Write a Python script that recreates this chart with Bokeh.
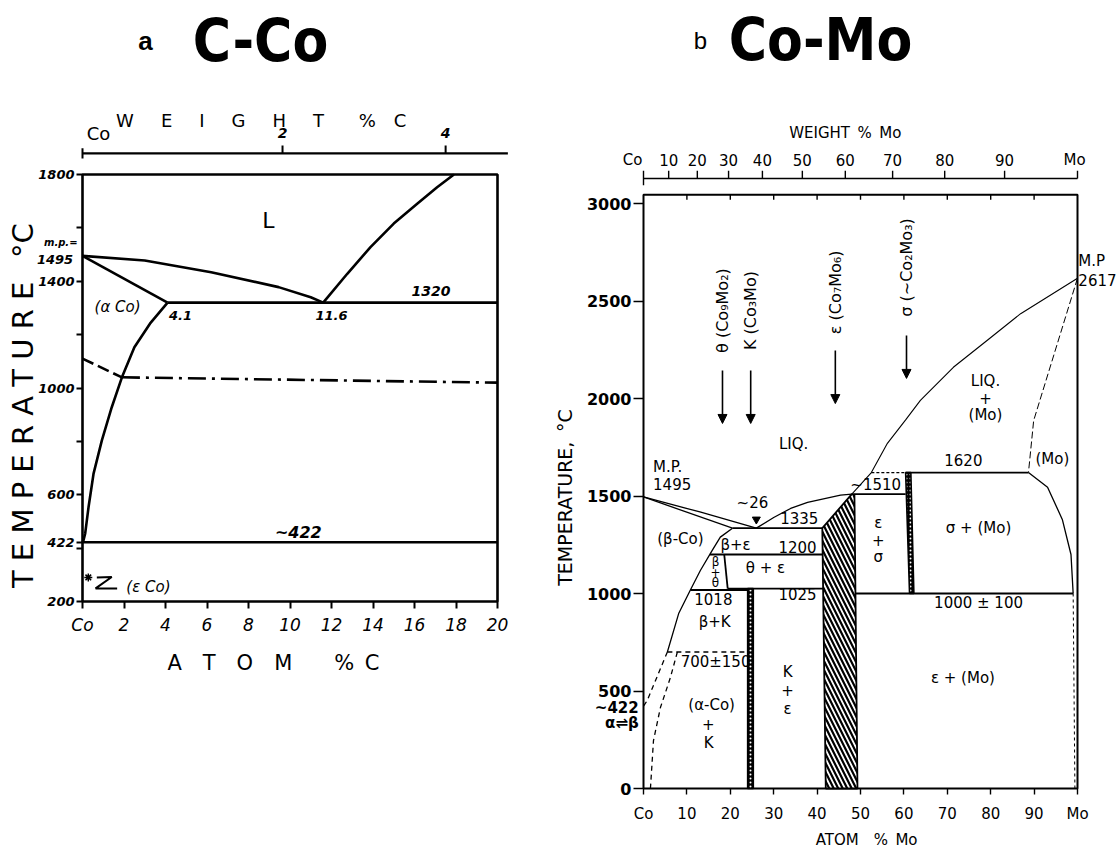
from bokeh.plotting import figure
from bokeh.layouts import row
from bokeh.models import Range1d, FixedTicker, LinearAxis, ColumnDataSource, Arrow, NormalHead
from bokeh.core.properties import value
from bokeh.embed import file_html
from bokeh.resources import INLINE

# ---------------- C-Co : atom % C against temperature (deg C) ----------------
cc_at_ticks = [0, 2, 4, 6, 8, 10, 12, 14, 16, 18, 20]
cc_at_labels = ["Co", "2", "4", "6", "8", "10", "12", "14", "16", "18", "20"]
cc_t_ticks = [200, 422, 600, 1000, 1400, 1800]
cc_t_minor = [400, 800, 1200, 1600]
cc_wt_ticks_at = [0, 9.64, 17.5]          # weight % C marks placed on the atom % scale
cc_wt_labels = ["Co", "2", "4"]

cc_frame_at = [0, 20]
cc_frame_t = [200, 1800]
cc_mp_co = 1495
cc_eutectic_t = 1320
cc_eutectic_at = 11.6
cc_solid_limit_at = 4.1
cc_allotropic_t = 422
cc_liquidus_at = [0, 3.0, 6.2, 9.45, 11.0, 11.6]
cc_liquidus_t = [1495, 1478, 1434, 1378, 1340, 1320]
cc_graphite_liq_at = [11.6, 12.76, 13.88, 15.0, 16.13, 17.09, 17.9]
cc_graphite_liq_t = [1320, 1428, 1528, 1616, 1690, 1752, 1800]
cc_solvus_at = [4.1, 3.25, 2.5, 1.9, 1.41, 0.93, 0.53, 0.29, 0.13, 0.05, 0]
cc_solvus_t = [1320, 1241, 1153, 1040, 928, 803, 678, 553, 455, 430, 422]
cc_curie_at = [0, 1.9]
cc_curie_t = [1110, 1040]
cc_curie2_at = [1.9, 20]
cc_curie2_t = [1040, 1020]

# ---------------- Co-Mo : atom % Mo against temperature (deg C) ----------------
cm_at_ticks = [0, 10, 20, 30, 40, 50, 60, 70, 80, 90, 100]
cm_at_labels = ["Co", "10", "20", "30", "40", "50", "60", "70", "80", "90", "Mo"]
cm_t_ticks = [0, 500, 1000, 1500, 2000, 2500, 3000]
cm_wt_ticks_at = [0, 5.8, 12.4, 19.6, 27.4, 36.6, 46.5, 57.4, 69.4, 83.2, 100]  # weight % Mo on atom % scale
cm_wt_labels = ["Co", "10", "20", "30", "40", "50", "60", "70", "80", "90", "Mo"]

cm_frame_at = [0, 100]
cm_frame_t = [0, 3045]
cm_mp_co = 1495
cm_mp_mo = 2617
cm_liq_co_at = [0, 13, 26]
cm_liq_co_t = [1495, 1418, 1335]
cm_sol_beta_at = [0, 20.5]
cm_sol_beta_t = [1495, 1335]
cm_solvus_beta_at = [20.5, 17.7, 15.8, 13.1, 10.8, 8.1, 5.5]
cm_solvus_beta_t = [1335, 1289, 1220, 1118, 1018, 897, 700]
cm_beta_alpha_at = [5.5, 0.85, 0]
cm_beta_alpha_t = [700, 451, 422]
cm_alpha_kappa_at = [7.8, 6.2, 3.9, 2.3, 1.6]
cm_alpha_kappa_t = [700, 569, 415, 246, 0]
cm_theta_at = [18.6, 19.4]
cm_theta_t = [1200, 1025]
# isotherms: start, end, temperature
cm_iso_x0 = [20.5, 15.3, 19.4, 10.8, 48.6, 60.4, 48.8]
cm_iso_x1 = [41.2, 41.3, 41.4, 24.0, 60.4, 88.7, 99.0]
cm_iso_t = [1335, 1200, 1025, 1018, 1510, 1620, 1000]
cm_sigma_top_at = [52.5, 60.4]
cm_sigma_top_t = [1620, 1620]
cm_k700_at = [5.5, 24.0]
cm_k700_t = [700, 700]
cm_eps_at = [42.0, 41.2, 48.0, 48.6, 49.3]
cm_eps_t = [0, 1335, 1510, 1510, 0]
cm_liq_mid_at = [26, 30, 33.9, 37.8, 45.4, 48.0]
cm_liq_mid_t = [1335, 1390, 1436, 1467, 1505, 1510]
cm_liq_mo_at = [48.0, 52.5, 56.2, 60.4, 63.8, 71.4, 79.3, 86.9, 100]
cm_liq_mo_t = [1510, 1620, 1770, 1890, 1990, 2160, 2300, 2435, 2617]
cm_sol_mo_at = [100, 89.9, 88.7]
cm_sol_mo_t = [2617, 1887, 1620]
cm_solvus_mo_at = [88.7, 93.1, 96.5, 98.5, 99.0]
cm_solvus_mo_t = [1620, 1545, 1380, 1200, 1000]
cm_solvus_mo_low_at = [99.0, 99.4]
cm_solvus_mo_low_t = [1000, 0]
cm_sigma_at = [60.4, 61.6, 62.3, 61.3]
cm_sigma_t = [1620, 1620, 1000, 1000]
cm_kappa_at = [24.0, 25.3]
cm_kappa_top = 1025
cm_eutectic = (26, 1335)
cm_phase_names = ["\u03b8 (Co\u2089Mo\u2082)", "K (Co\u2083Mo)", "\u03b5 (Co\u2087Mo\u2086)", "\u03c3 (~Co\u2082Mo\u2083)"]
cm_phase_at = [18.2, 24.7, 44.2, 60.6]


def fit_range(p0, v0, p1, v1, size):
    """Range that puts value v0 at pixel p0 and v1 at pixel p1 (pixels from the start edge)."""
    per_px = (v1 - v0) / (p1 - p0)
    start = v0 - p0 * per_px
    return Range1d(start, start + size * per_px)


def make_fig(w, h, xr, yr):
    p = figure(width=w, height=h, x_range=xr, y_range=yr, output_backend="svg",
               toolbar_location=None, min_border=0, x_axis_type=None, y_axis_type=None,
               outline_line_color=None, background_fill_color="white", border_fill_color="white")
    return p


def put_text(p, xs, ys, texts, size, style="normal", align="center", baseline="middle",
             angle=0.0, font="DejaVu Sans", x_offset=0):
    p.text(x=xs, y=ys, text=texts, text_font=value(font), text_font_size=size,
           text_font_style=style, text_align=align, text_baseline=baseline, angle=angle,
           text_color="black", x_offset=x_offset)


def style_axis(ax, font, size, fstyle, tick, standoff, width):
    ax.axis_line_color = None
    ax.major_tick_in = 0
    ax.major_tick_out = tick
    ax.minor_tick_in = 0
    ax.minor_tick_out = tick
    ax.major_tick_line_width = width
    ax.minor_tick_line_width = width
    ax.major_label_text_font = font
    ax.major_label_text_font_size = size
    ax.major_label_text_font_style = fstyle
    ax.major_label_standoff = standoff
    ax.major_label_text_color = "black"


H = 850
HALF_PI = 1.5707963
TITLE_FONT = "DejaVu Sans Condensed"

# =============================== panel a : C-Co ===============================
pa = make_fig(540, H, fit_range(82, 0, 497, 20, 540), fit_range(H - 601, 200, H - 174, 1800, H))

ya = LinearAxis(fixed_location=0, ticker=FixedTicker(ticks=cc_t_ticks, minor_ticks=cc_t_minor))
style_axis(ya, "DejaVu Sans", "13px", "bold italic", 6, 2, 2)
pa.add_layout(ya, "left")
xa = LinearAxis(fixed_location=200, ticker=FixedTicker(ticks=cc_at_ticks),
                major_label_overrides={t: s for t, s in zip(cc_at_ticks, cc_at_labels)})
style_axis(xa, "DejaVu Sans", "17px", "italic", 7, 6, 2)
pa.add_layout(xa, "below")

LW_A = 2.6
pa.quad(left=cc_frame_at[0], right=cc_frame_at[1], bottom=cc_frame_t[0], top=cc_frame_t[1],
        fill_color=None, line_color="black", line_width=LW_A)
pa.line(cc_liquidus_at, cc_liquidus_t, line_color="black", line_width=LW_A)
pa.line(cc_graphite_liq_at, cc_graphite_liq_t, line_color="black", line_width=LW_A)
pa.line([0, cc_solid_limit_at], [cc_mp_co, cc_eutectic_t], line_color="black", line_width=LW_A)
pa.line(cc_solvus_at, cc_solvus_t, line_color="black", line_width=LW_A)
pa.segment(x0=[cc_solid_limit_at, 0], y0=[cc_eutectic_t, cc_allotropic_t],
           x1=[cc_frame_at[1], cc_frame_at[1]], y1=[cc_eutectic_t, cc_allotropic_t],
           line_color="black", line_width=LW_A)
pa.line(cc_curie_at, cc_curie_t, line_color="black", line_width=LW_A, line_dash="12 5")
pa.line(cc_curie2_at, cc_curie2_t, line_color="black", line_width=LW_A, line_dash="18 6 3 6")

# weight % C scale above the frame
wt_a = 1879
pa.segment(x0=[0], y0=[wt_a], x1=[20.5], y1=[wt_a], line_color="black", line_width=2.2)
pa.segment(x0=cc_wt_ticks_at, y0=[wt_a - 19, wt_a, wt_a], x1=cc_wt_ticks_at,
           y1=[wt_a + 19, wt_a + 30, wt_a + 30], line_color="black", line_width=2)
put_text(pa, cc_wt_ticks_at[:1], [1954], cc_wt_labels[:1], "18px", x_offset=16)
put_text(pa, cc_wt_ticks_at[1:], [1954, 1954], cc_wt_labels[1:], "14px", style="bold italic")
put_text(pa, [6.63], [2004], ["W\u2003\u2002E\u2003\u2002I\u2003\u2002G\u2003\u2002H\u2003\u2002T"], "18px")
put_text(pa, [14.46], [2004], ["%\u2003C"], "18px")

# axis titles
put_text(pa, [9.2], [-30], ["A\u2003T\u2003O\u2003M\u2003\u2003%\u2002C"], "21px")
put_text(pa, [-2.89], [934], ["T E M P E R A T U R E \u2002\u00b0C"], "29px", angle=HALF_PI)

# field and point labels
put_text(pa, [8.96], [1628], ["L"], "22px")
put_text(pa, [1.69], [1305], ["(\u03b1 Co)"], "15px", style="italic")
put_text(pa, [4.72], [1272], ["4.1"], "13px", style="bold italic")
put_text(pa, [12.0], [1272], ["11.6"], "13px", style="bold italic")
put_text(pa, [16.8], [1362], ["1320"], "14px", style="bold italic")
put_text(pa, [10.4], [458], ["~422"], "16px", style="bold italic")
put_text(pa, [3.18], [256], ["(\u03b5 Co)"], "15px", style="italic")
put_text(pa, [-0.24], [1545], ["m.p.="], "10px", style="bold italic", align="right")
put_text(pa, [-0.45], [1481], ["1495"], "13px", style="bold italic", align="right")
pa.line([0.69, 1.41, 0.63, 1.67], [290, 292, 249, 249], line_color="black", line_width=2)
pa.scatter([0.28], [290], marker="asterisk", size=8, line_color="black", line_width=1.5)

put_text(pa, [3.04], [2300], ["a"], "26px", style="bold", font="Liberation Sans")
put_text(pa, [8.58], [2300], ["C-Co"], "58px", style="bold", font=TITLE_FONT)

# =============================== panel b : Co-Mo ===============================
pb = make_fig(578, H, fit_range(103, 0, 537, 100, 578), fit_range(H - 788, 0, H - 203, 3000, H))

yb = LinearAxis(fixed_location=0, ticker=FixedTicker(ticks=cm_t_ticks))
style_axis(yb, "DejaVu Sans", "16px", "bold", 10, 2, 1.6)
pb.add_layout(yb, "left")
xb = LinearAxis(fixed_location=0, ticker=FixedTicker(ticks=cm_at_ticks),
                major_label_overrides={t: s for t, s in zip(cm_at_ticks, cm_at_labels)})
style_axis(xb, "DejaVu Sans", "15px", "normal", 6, 10, 1.4)
pb.add_layout(xb, "below")

LW_B = 1.3
pb.quad(left=cm_frame_at[0], right=cm_frame_at[1], bottom=cm_frame_t[0], top=cm_frame_t[1],
        fill_color=None, line_color="black", line_width=2)
# atom % marks along the top edge of the frame
pb.segment(x0=cm_at_ticks[1:-1], y0=[cm_frame_t[1]] * 9, x1=cm_at_ticks[1:-1],
           y1=[cm_frame_t[1] - 26] * 9, line_color="black", line_width=1.4)

# hatched epsilon field and the stippled kappa / sigma bands
pb.patch(cm_eps_at, cm_eps_t, fill_color="white", line_color="black", line_width=1.8,
         hatch_pattern="left_diagonal_line", hatch_color="black", hatch_scale=9, hatch_weight=2.2)
pb.quad(left=cm_kappa_at[0], right=cm_kappa_at[1], bottom=0, top=cm_kappa_top,
        fill_color="black", line_color="black", line_width=1.6,
        hatch_pattern="dot", hatch_color="white", hatch_scale=4, hatch_weight=1.5)
pb.patch(cm_sigma_at, cm_sigma_t, fill_color="black", line_color="black", line_width=1.6,
         hatch_pattern="dot", hatch_color="white", hatch_scale=4, hatch_weight=1.5)

pb.line(cm_liq_co_at, cm_liq_co_t, line_color="black", line_width=LW_B)
pb.line(cm_sol_beta_at, cm_sol_beta_t, line_color="black", line_width=LW_B)
pb.line(cm_solvus_beta_at, cm_solvus_beta_t, line_color="black", line_width=LW_B)
pb.line(cm_beta_alpha_at, cm_beta_alpha_t, line_color="black", line_width=1.3, line_dash="5 4")
pb.line(cm_alpha_kappa_at, cm_alpha_kappa_t, line_color="black", line_width=1.3, line_dash="5 4")
pb.line(cm_k700_at, cm_k700_t, line_color="black", line_width=1.3, line_dash="5 4")
pb.line(cm_theta_at, cm_theta_t, line_color="black", line_width=1.8)
pb.segment(x0=cm_iso_x0, y0=cm_iso_t, x1=cm_iso_x1, y1=cm_iso_t, line_color="black", line_width=1.8)
pb.line(cm_sigma_top_at, cm_sigma_top_t, line_color="black", line_width=1.2, line_dash="3 2")
pb.line(cm_liq_mid_at, cm_liq_mid_t, line_color="black", line_width=LW_B)
pb.line(cm_liq_mo_at, cm_liq_mo_t, line_color="black", line_width=1.1)
pb.line(cm_sol_mo_at, cm_sol_mo_t, line_color="black", line_width=1.0, line_dash="7 3")
pb.line(cm_solvus_mo_at, cm_solvus_mo_t, line_color="black", line_width=LW_B)
pb.line(cm_solvus_mo_low_at, cm_solvus_mo_low_t, line_color="black", line_width=1.0, line_dash="3 3")
pb.scatter([cm_eutectic[0]], [cm_eutectic[1] + 45], marker="inverted_triangle", size=8,
           fill_color="black", line_color="black")

# weight % Mo scale above the frame
wt_b = 3128
pb.segment(x0=[0], y0=[wt_b], x1=[100], y1=[wt_b], line_color="black", line_width=1.6)
pb.segment(x0=cm_wt_ticks_at, y0=[wt_b - 35] + [wt_b] * 10, x1=cm_wt_ticks_at,
           y1=[wt_b + 40] * 11, line_color="black", line_width=1.4)
put_text(pb, cm_wt_ticks_at, [3221] * 11, cm_wt_labels, "15px",
         x_offset=[-11, 0, 0, 0, 0, 0, 0, 0, 0, 0, -3])
put_text(pb, [46.5], [3359], ["WEIGHT\u2002%\u2002Mo"], "15px")

# phase arrows along the top
pb.add_layout(Arrow(end=NormalHead(size=9, fill_color="black", line_color="black"),
                    source=ColumnDataSource(dict(x0=cm_phase_at, y0=[2144, 2144, 2246, 2323],
                                                 x1=cm_phase_at, y1=[1872, 1872, 1974, 2103])),
                    x_start="x0", y_start="y0", x_end="x1", y_end="y1",
                    line_color="black", line_width=1.6))
put_text(pb, cm_phase_at, [2451, 2451, 2544, 2672], cm_phase_names, "16px", angle=HALF_PI)

# axis titles
put_text(pb, [51.4], [-265], ["ATOM\u2003%\u2002Mo"], "15px")
put_text(pb, [-18.0], [1492], ["TEMPERATURE,\u2002\u00b0C"], "19px", angle=HALF_PI)

# field and point labels
lab = [
    ("LIQ.", 34.6, 1769), ("~26", 25.1, 1462), ("1335", 35.9, 1385),
    ("(\u03b2-Co)", 8.5, 1282), ("\u03b2+\u03b5", 21.2, 1251), ("1200", 35.5, 1241),
    ("\u03b8 + \u03b5", 28.1, 1133), ("1018", 16.1, 974), ("1025", 35.5, 995),
    ("\u03b2+K", 16.4, 856), ("700\u00b1150", 16.6, 651), ("(\u03b1-Co)", 15.7, 426),
    ("+", 14.9, 333), ("K", 15.0, 231), ("K", 33.2, 595), ("+", 33.2, 507), ("\u03b5", 33.2, 410),
    ("\u03b5", 54.1, 1364), ("+", 54.1, 1272), ("\u03c3", 54.1, 1185), ("~1510", 53.5, 1554),
    ("1620", 73.7, 1687), ("(Mo)", 94.2, 1692), ("\u03c3  +  (Mo)", 78.3, 1338),
    ("1000 \u00b1 100", 77.2, 949), ("\u03b5  +  (Mo)", 74.7, 569),
    ("LIQ.", 78.8, 2092), ("+", 78.8, 2005), ("(Mo)", 78.8, 1913),
]
put_text(pb, [t[1] for t in lab], [t[2] for t in lab], [t[0] for t in lab], "15px")
put_text(pb, [16.6, 16.6, 16.6], [1164, 1108, 1056], ["\u03b2", "+", "\u03b8"], "12px")
put_text(pb, [2.2, 2.2], [1651, 1559], ["M.P.", "1495"], "15px", align="left")
put_text(pb, [100.2, 100.2], [2703, 2610], ["M.P", "2617"], "15px", align="left")
put_text(pb, [-1.1, -1.1], [415, 338], ["~422", "\u03b1\u21cc\u03b2"], "15px", style="bold", align="right")

put_text(pb, [13.1], [3836], ["b"], "24px", font="Liberation Sans")
put_text(pb, [40.8], [3836], ["Co-Mo"], "58px", style="bold", font=TITLE_FONT)

layout = row(pa, pb)
open("out.html", "w").write(file_html(layout, INLINE))
